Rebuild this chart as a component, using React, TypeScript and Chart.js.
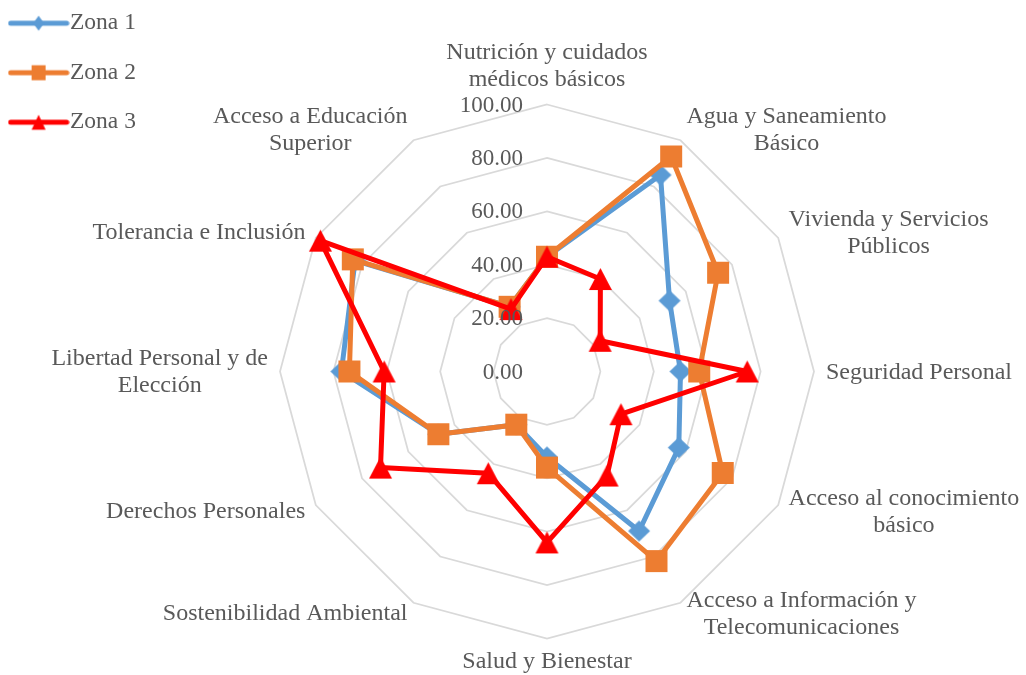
import React, { useEffect, useRef } from 'react';
import { Chart, registerables } from 'chart.js';

Chart.register(...registerables);

const CATEGORIES: (string | string[])[] = [
  ['Nutrición y cuidados', 'médicos básicos'],
  ['Agua y Saneamiento', 'Básico'],
  ['Vivienda y Servicios', 'Públicos'],
  'Seguridad Personal',
  ['Acceso al conocimiento', 'básico'],
  ['Acceso a Información y', 'Telecomunicaciones'],
  'Salud y Bienestar',
  'Sostenibilidad Ambiental',
  'Derechos Personales',
  ['Libertad Personal y de', 'Elección'],
  'Tolerancia e Inclusión',
  ['Acceso a Educación', 'Superior'],
];

const ZONA_1 = [43, 85, 53, 50, 57, 69, 32, 23, 47, 77, 83, 28];
const ZONA_2 = [43, 93, 74, 57, 76, 82, 36, 23, 47, 74, 84, 28];
const ZONA_3 = [43, 40, 23, 75, 32, 45, 64, 44, 72, 61, 98, 27];

const SERIES_NAMES = ['Zona 1', 'Zona 2', 'Zona 3'];
const SERIES_COLORS = ['#5B9BD5', '#ED7D31', '#FF0000'];
const TICK_LABELS = ['0.00', '20.00', '40.00', '60.00', '80.00', '100.00'];

const FONT = '"Liberation Serif", "Times New Roman", serif';
const TEXT = '#595959';

type Kind = 'diamond' | 'square' | 'triangle';
const KINDS: Kind[] = ['diamond', 'square', 'triangle'];

function drawShape(g: CanvasRenderingContext2D, kind: Kind, cx: number, cy: number, w: number, h: number) {
  g.beginPath();
  if (kind === 'diamond') {
    g.moveTo(cx, cy - h / 2);
    g.lineTo(cx + w / 2, cy);
    g.lineTo(cx, cy + h / 2);
    g.lineTo(cx - w / 2, cy);
  } else if (kind === 'square') {
    g.rect(cx - w / 2, cy - h / 2, w, h);
  } else {
    g.moveTo(cx, cy - h / 2);
    g.lineTo(cx + w / 2, cy + h / 2);
    g.lineTo(cx - w / 2, cy + h / 2);
  }
  g.closePath();
  g.fill();
}

function makeMarker(kind: Kind, color: string, w: number, h: number) {
  const c = document.createElement('canvas');
  c.width = Math.ceil(w) + 2;
  c.height = Math.ceil(h) + 2;
  const g = c.getContext('2d')!;
  g.fillStyle = color;
  drawShape(g, kind, c.width / 2, c.height / 2, w, h);
  return c;
}

function makeLegendIcon(kind: Kind, color: string, mw: number, mh: number) {
  const c = document.createElement('canvas');
  c.width = 62;
  c.height = 24;
  const g = c.getContext('2d')!;
  g.strokeStyle = color;
  g.lineWidth = 5;
  g.lineCap = 'round';
  g.beginPath();
  g.moveTo(3, 12);
  g.lineTo(59, 12);
  g.stroke();
  g.fillStyle = color;
  drawShape(g, kind, 31, 12, mw, mh);
  return c;
}

// moves the legend box to the top-left corner (like the Excel legend)
const legendCorner = {
  id: 'legendCorner',
  afterLayout(chart: any) {
    const lg = chart.legend;
    if (!lg) return;
    lg.left = -7;
    lg.top = -14.5;
  },
};

const excelLabels = {
  id: 'excelLabels',
  afterDatasetsDraw(chart: any) {
    const scale = chart.scales.r;
    const ctx: CanvasRenderingContext2D = chart.ctx;
    ctx.save();
    ctx.fillStyle = TEXT;
    // value axis labels
    ctx.font = `23px ${FONT}`;
    ctx.textAlign = 'right';
    ctx.textBaseline = 'middle';
    scale.ticks.forEach((t: any) => {
      const d = scale.getDistanceFromCenterForValue(t.value);
      ctx.fillText(String(t.label), scale.xCenter - 24, scale.yCenter - d + 1);
    });
    // category labels
    ctx.font = `24px ${FONT}`;
    ctx.textBaseline = 'alphabetic';
    ctx.textAlign = 'center';
    const lh = 27;
    const labels = chart.data.labels as (string | string[])[];
    labels.forEach((lab, i) => {
      const lines = Array.isArray(lab) ? lab : [lab];
      const p = scale.getPointPosition(i, scale.drawingArea + 12);
      const deg = Math.round((scale.getIndexAngle(i) * 180) / Math.PI) % 360;
      const bw = Math.max(...lines.map((l) => ctx.measureText(l).width));
      let cx = p.x;
      if (deg > 0 && deg < 180) cx = p.x + bw / 2;
      else if (deg > 180) cx = p.x - bw / 2;
      const n = lines.length;
      let first: number;
      if (deg === 0) first = p.y - 6.5 - (n - 1) * lh;
      else if (deg === 180) first = p.y + 17;
      else first = p.y + 7 - ((n - 1) * lh) / 2;
      lines.forEach((l, k) => ctx.fillText(l, cx, first + k * lh));
    });
    ctx.restore();
  },
};

export default function App() {
  const ref = useRef<HTMLCanvasElement>(null);
  useEffect(() => {
    if (!ref.current) return;
    const seriesData = [ZONA_1, ZONA_2, ZONA_3];
    const markerSizes: [number, number][] = [[22, 21], [22, 22], [23, 22]];
    const legendSizes: [number, number][] = [[11, 15], [14, 15], [14, 15]];
    const chartMarkers = KINDS.map((k, i) => makeMarker(k, SERIES_COLORS[i], markerSizes[i][0], markerSizes[i][1]));
    const legendIcons = KINDS.map((k, i) => makeLegendIcon(k, SERIES_COLORS[i], legendSizes[i][0], legendSizes[i][1]));

    const chart = new Chart(ref.current, {
      type: 'radar',
      data: {
        labels: CATEGORIES as any,
        datasets: seriesData.map((d, i) => ({
          label: SERIES_NAMES[i],
          data: d,
          borderColor: SERIES_COLORS[i],
          backgroundColor: SERIES_COLORS[i],
          borderWidth: 5,
          fill: false,
          pointStyle: chartMarkers[i] as any,
          pointRadius: 10,
          pointBorderWidth: 0,
          borderJoinStyle: 'round' as const,
          borderCapStyle: 'round' as const,
          tension: 0,
          order: 3 - i,
        })),
      },
      options: {
        responsive: false,
        animation: false,
        events: [],
        layout: { padding: 0 },
        plugins: {
          legend: {
            position: 'chartArea',
            align: 'start',
            labels: {
              usePointStyle: true,
              pointStyleWidth: 39.25,
              padding: 26,
              color: TEXT,
              font: { family: FONT, size: 23.5 },
              generateLabels: (ch: any) =>
                ch.data.datasets.map((ds: any, i: number) => ({
                  text: ds.label,
                  pointStyle: legendIcons[i],
                  fillStyle: SERIES_COLORS[i],
                  strokeStyle: SERIES_COLORS[i],
                  lineWidth: 0,
                  hidden: false,
                  datasetIndex: i,
                  fontColor: TEXT,
                })),
            },
          },
          tooltip: { enabled: false },
        },
        scales: {
          r: {
            min: 0,
            max: 100,
            startAngle: 0,
            ticks: {
              stepSize: 20,
              display: false,
              callback: (_v: any, i: number) => TICK_LABELS[i],
            },
            grid: { color: '#D9D9D9', lineWidth: 1.75, circular: false },
            angleLines: { display: false },
            pointLabels: { display: false },
            afterFit: (s: any) => {
              s.xCenter = 547;
              s.yCenter = 371.5;
              s.drawingArea = 267;
            },
          },
        },
      } as any,
      plugins: [legendCorner, excelLabels],
    });
    return () => chart.destroy();
  }, []);

  return (
    <div style={{ position: 'fixed', left: 0, top: 0, width: 1026, height: 675, background: '#fff' }}>
      <canvas ref={ref} width={1026} height={675} style={{ display: 'block' }} />
    </div>
  );
}
